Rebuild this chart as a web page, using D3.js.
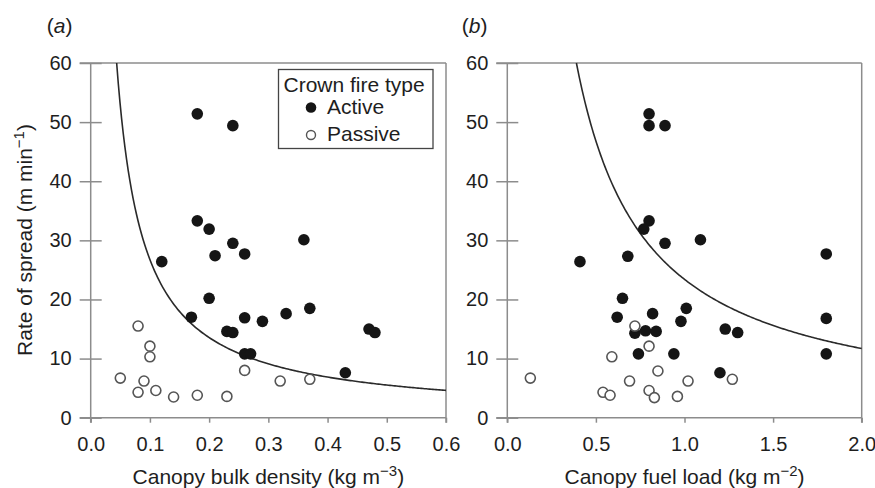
<!DOCTYPE html>
<html>
<head>
<meta charset="utf-8">
<script src="https://cdn.jsdelivr.net/npm/d3@7"></script>
<style>
  body { margin: 0; background: #fff; }
  svg { font-family: "Liberation Sans", Arial, sans-serif; }
</style>
</head>
<body>
<svg id="drawing_region"></svg>
<script>
// panel (a): canopy bulk density (kg m-3) vs rate of spread (m/min)
const activeA = [
    [0.18,51.4],[0.24,49.4],[0.18,33.3],[0.20,31.9],[0.24,29.5],[0.36,30.1],
    [0.12,26.4],[0.21,27.4],[0.26,27.7],[0.20,20.2],[0.17,17.0],[0.26,16.9],
    [0.29,16.3],[0.33,17.6],[0.37,18.5],[0.23,14.6],[0.24,14.4],[0.26,10.8],
    [0.27,10.8],[0.43,7.6],[0.47,15.0],[0.48,14.4]
];
const passiveA = [
    [0.08,15.5],[0.10,12.1],[0.10,10.3],[0.05,6.7],[0.09,6.2],[0.08,4.3],
    [0.11,4.6],[0.14,3.5],[0.18,3.8],[0.23,3.6],[0.26,8.0],[0.32,6.2],[0.37,6.5]
];
// panel (b): canopy fuel load (kg m-2) vs rate of spread
const activeB = [
    [0.80,51.4],[0.80,49.4],[0.89,49.4],[0.80,33.3],[0.77,31.9],[0.89,29.5],
    [1.09,30.1],[1.80,27.7],[0.41,26.4],[0.68,27.3],[0.65,20.2],[0.62,17.0],
    [0.82,17.6],[1.01,18.5],[0.98,16.3],[1.80,16.8],[1.23,15.0],[1.30,14.4],
    [0.72,14.3],[0.78,14.7],[0.84,14.6],[0.74,10.8],[0.94,10.8],[1.80,10.8],
    [1.20,7.6]
];
const passiveB = [
    [0.13,6.7],[0.59,10.3],[0.72,15.5],[0.80,12.1],[0.85,7.9],[0.69,6.2],
    [1.02,6.2],[1.27,6.5],[0.54,4.3],[0.58,3.8],[0.80,4.6],[0.83,3.4],[0.96,3.6]
];
// threshold curves y = k * x^-p
const curveA = {k: 2.8, p: 0.98};
const curveB = {k: 23.4, p: 1.0};

const yTicks = [0,10,20,30,40,50,60];
const xTicksA = [0,0.1,0.2,0.3,0.4,0.5,0.6];
const xTicksB = [0,0.5,1.0,1.5,2.0];

const W = 875, H = 488;
const svg = d3.select('#drawing_region').attr('width', W).attr('height', H);

const axisColor = '#8c8c8c';
const textColor = '#1e1e1e';

function panel(cfg){
    const g = svg.append('g');
    const xs = d3.scaleLinear().domain(cfg.xdomain).range(cfg.xrange);
    const ys = d3.scaleLinear().domain([0,60]).range([417.7, 63]);
    const [x0, x1] = cfg.xrange;

    // y axis
    const yaxis = d3.axisLeft(ys).tickValues(yTicks).tickSize(11).tickPadding(8).tickSizeOuter(0);
    const yg = g.append('g').attr('transform', `translate(${x0},0)`).call(yaxis);
    yg.select('.domain').remove();
    yg.selectAll('.tick line').attr('x1', 11).attr('stroke', axisColor).attr('stroke-width', 1.5);
    yg.selectAll('.tick text').attr('font-size', 20).attr('fill', textColor);

    // x axis
    const xaxis = d3.axisBottom(xs).tickValues(cfg.xticks).tickFormat(d3.format('.1f'))
        .tickSize(5).tickPadding(14).tickSizeOuter(0);
    const xg = g.append('g').attr('transform', `translate(0,${ys(0)})`).call(xaxis);
    xg.select('.domain').remove();
    xg.selectAll('.tick line').attr('stroke', axisColor).attr('stroke-width', 1.5);
    xg.selectAll('.tick text').attr('font-size', 20).attr('fill', textColor);

    // frame lines
    const frame = [
        [x0 - 11, ys(60), x1, ys(60)],
        [x0 - 11, ys(0), x1, ys(0)],
        [x0, ys(60), x0, ys(0) + 5],
        [x1, ys(60), x1, ys(0) + 5]
    ];
    g.selectAll('line.frame').data(frame).join('line')
        .attr('class', 'frame')
        .attr('x1', d => d[0]).attr('y1', d => d[1])
        .attr('x2', d => d[2]).attr('y2', d => d[3])
        .attr('stroke', axisColor).attr('stroke-width', 1.5);

    // curve
    const c = cfg.curve;
    const xStart = Math.pow(c.k / 60, 1 / c.p);
    const xs_ = d3.range(0, 201).map(i => xStart + (cfg.xdomain[1] - xStart) * i / 200);
    const line = d3.line().x(d => xs(d)).y(d => ys(c.k * Math.pow(d, -c.p)));
    g.append('path').attr('d', line(xs_))
        .attr('fill', 'none').attr('stroke', '#2a2a2a').attr('stroke-width', 1.6);

    // points
    g.selectAll('circle.act').data(cfg.active).join('circle')
        .attr('class', 'act')
        .attr('cx', d => xs(d[0])).attr('cy', d => ys(d[1]))
        .attr('r', 5.8).attr('fill', '#151515');
    g.selectAll('circle.pas').data(cfg.passive).join('circle')
        .attr('class', 'pas')
        .attr('cx', d => xs(d[0])).attr('cy', d => ys(d[1]))
        .attr('r', 5).attr('fill', '#fff').attr('stroke', '#555').attr('stroke-width', 1.6);

    // x title
    const xt = g.append('text')
        .attr('x', (x0 + x1) / 2).attr('y', 484)
        .attr('text-anchor', 'middle').attr('font-size', 21).attr('fill', textColor);
    xt.append('tspan').text(cfg.xlabel);
    xt.append('tspan').attr('dy', -8).attr('font-size', 15).text(cfg.xsup);
    xt.append('tspan').attr('dy', 8).text(')');

    // panel label
    const pl = g.append('text')
        .attr('x', cfg.labelX).attr('y', 33)
        .attr('font-size', 21).attr('fill', textColor);
    pl.append('tspan').text('(');
    pl.append('tspan').attr('font-style', 'italic').text(cfg.letter);
    pl.append('tspan').text(')');

    return {g, xs, ys};
}

panel({
    xdomain: [0, 0.6], xrange: [90.7, 446], xticks: xTicksA,
    curve: curveA, active: activeA, passive: passiveA,
    xlabel: 'Canopy bulk density (kg m', xsup: '\u22123',
    letter: 'a', labelX: 46.7
});
panel({
    xdomain: [0, 2.0], xrange: [507.3, 861.7], xticks: xTicksB,
    curve: curveB, active: activeB, passive: passiveB,
    xlabel: 'Canopy fuel load (kg m', xsup: '\u22122',
    letter: 'b', labelX: 461.7
});

// y title (shared on left)
const yt = svg.append('text')
    .attr('transform', 'translate(31.5,240) rotate(-90)')
    .attr('text-anchor', 'middle').attr('font-size', 21).attr('fill', textColor);
yt.append('tspan').text('Rate of spread (m min');
yt.append('tspan').attr('dy', -8).attr('font-size', 15).text('\u22121');
yt.append('tspan').attr('dy', 8).text(')');

// legend
const lg = svg.append('g');
lg.append('rect').attr('x', 278.5).attr('y', 69.5).attr('width', 154.5).attr('height', 79)
    .attr('fill', '#fff').attr('stroke', '#444').attr('stroke-width', 1.3);
lg.append('text').attr('x', 283.5).attr('y', 91.5).attr('font-size', 21).attr('fill', textColor)
    .text('Crown fire type');
lg.append('circle').attr('cx', 311).attr('cy', 107.5).attr('r', 5.3).attr('fill', '#151515');
lg.append('text').attr('x', 327).attr('y', 113.5).attr('font-size', 21).attr('fill', textColor)
    .text('Active');
lg.append('circle').attr('cx', 311).attr('cy', 135).attr('r', 4.5)
    .attr('fill', '#fff').attr('stroke', '#555').attr('stroke-width', 1.4);
lg.append('text').attr('x', 327).attr('y', 141).attr('font-size', 21).attr('fill', textColor)
    .text('Passive');
</script>
</body>
</html>
